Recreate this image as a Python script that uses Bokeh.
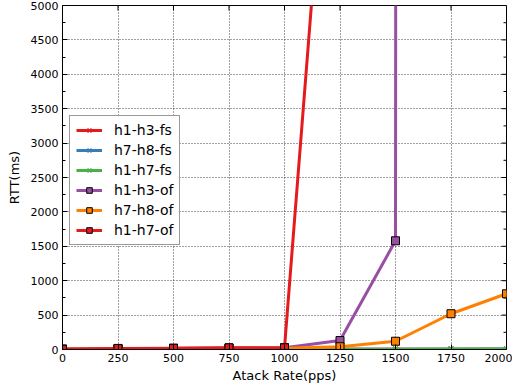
from bokeh.plotting import figure
from bokeh.models import Legend, LegendItem, SingleIntervalTicker, Range1d
from bokeh.embed import file_html
from bokeh.resources import INLINE

# ---- data ----
rates = [0, 250, 500, 750, 1000, 1250, 1500, 1750, 2000]
h1_h3_fs = [2, 3, 3, 4, 4, 4, 5, 5, 5]
h7_h8_fs = [2, 3, 3, 4, 4, 5, 5, 5, 6]
h1_h7_fs = [2, 3, 4, 4, 5, 5, 5, 6, 6]
h1_h3_of = [5, 15, 18, 22, 25, 130, 1580, 1000000, 1000000]
h7_h8_of = [3, 10, 12, 15, 18, 40, 120, 520, 810]
h1_h7_of = [5, 15, 18, 25, 25, 10300, 1000000, 1000000, 1000000]

labels = ["h1-h3-fs", "h7-h8-fs", "h1-h7-fs", "h1-h3-of", "h7-h8-of", "h1-h7-of"]
series = [h1_h3_fs, h7_h8_fs, h1_h7_fs, h1_h3_of, h7_h8_of, h1_h7_of]
colors = ["#e41a1c", "#377eb8", "#4daf4a", "#984ea3", "#ff7f00", "#e41a1c"]
markers = ["x", "x", "x", "square", "square", "square"]

x_ticks = [0, 250, 500, 750, 1000, 1250, 1500, 1750, 2000]
y_ticks = [0, 500, 1000, 1500, 2000, 2500, 3000, 3500, 4000, 4500, 5000]
y_minor = [250, 750, 1250, 1750, 2250, 2750, 3250, 3750, 4250, 4750]
X_MAX = 2000
Y_MAX = 5000

FONT = "DejaVu Sans"

p = figure(width=512, height=385, output_backend="svg", toolbar_location=None,
           x_range=Range1d(0, X_MAX), y_range=Range1d(0, Y_MAX),
           min_border_left=62, min_border_right=6, min_border_top=5, min_border_bottom=36,
           x_axis_label="Atack Rate(pps)", y_axis_label="RTT(ms)")
p.background_fill_color = "white"
p.border_fill_color = "white"
p.outline_line_color = "black"
p.outline_line_width = 1

xt = SingleIntervalTicker(interval=250, num_minor_ticks=0)
yt = SingleIntervalTicker(interval=500, num_minor_ticks=2)
p.xaxis.ticker = xt
p.yaxis.ticker = yt

for ax in [p.xaxis[0], p.yaxis[0]]:
    ax.major_tick_in = 5
    ax.major_tick_out = 0
    ax.minor_tick_in = 3
    ax.minor_tick_out = 0
    ax.major_label_text_font = FONT
    ax.major_label_text_font_size = "11px"
    ax.major_label_text_color = "black"
    ax.axis_label_text_font = FONT
    ax.axis_label_text_font_size = "13px"
    ax.axis_label_text_font_style = "normal"
    ax.axis_label_text_color = "black"
    ax.axis_line_color = "black"
    ax.major_tick_line_color = "black"
    ax.minor_tick_line_color = "black"
p.xaxis.major_label_standoff = 4
p.xaxis.axis_label_standoff = 3
p.yaxis.major_label_standoff = 4
p.yaxis.axis_label_standoff = 6

for g in [p.xgrid[0], p.ygrid[0]]:
    g.grid_line_color = "black"
    g.grid_line_dash = "1 2"
    g.grid_line_width = 1
    g.grid_line_alpha = 0.75
p.xgrid.ticker = xt
p.ygrid.ticker = yt

# mirrored inward ticks on top and right edges (screen-length rays)
p.ray(x=x_ticks, y=[Y_MAX] * len(x_ticks), length=5, length_units="screen",
      angle=-90, angle_units="deg", line_color="black", line_width=1)
p.ray(x=[X_MAX] * len(y_ticks), y=y_ticks, length=5, length_units="screen",
      angle=180, angle_units="deg", line_color="black", line_width=1)
p.ray(x=[X_MAX] * len(y_minor), y=y_minor, length=3, length_units="screen",
      angle=180, angle_units="deg", line_color="black", line_width=1)

items = []
for lab, ys, col, mk in zip(labels, series, colors, markers):
    ln = p.line(rates, ys, line_color=col, line_width=3)
    if mk == "x":
        sc = p.scatter(rates, ys, marker="x", size=7, line_color=col, line_width=1.5)
    else:
        sc = p.scatter(rates, ys, marker="square", size=8, fill_color=col,
                       line_color="black", line_width=1)
    items.append(LegendItem(label=lab, renderers=[ln, sc]))

legend = Legend(items=items, location=(7, 104))
legend.label_text_font = FONT
legend.label_text_font_size = "14px"
legend.label_text_color = "black"
legend.glyph_width = 26
legend.glyph_height = 14
legend.label_height = 14
legend.spacing = 4
legend.padding = 6
legend.margin = 0
legend.label_standoff = 12
legend.border_line_color = "#333333"
legend.border_line_width = 1.5
legend.background_fill_color = "white"
legend.background_fill_alpha = 1
p.add_layout(legend, "center")

open("out.html", "w").write(file_html(p, INLINE))
